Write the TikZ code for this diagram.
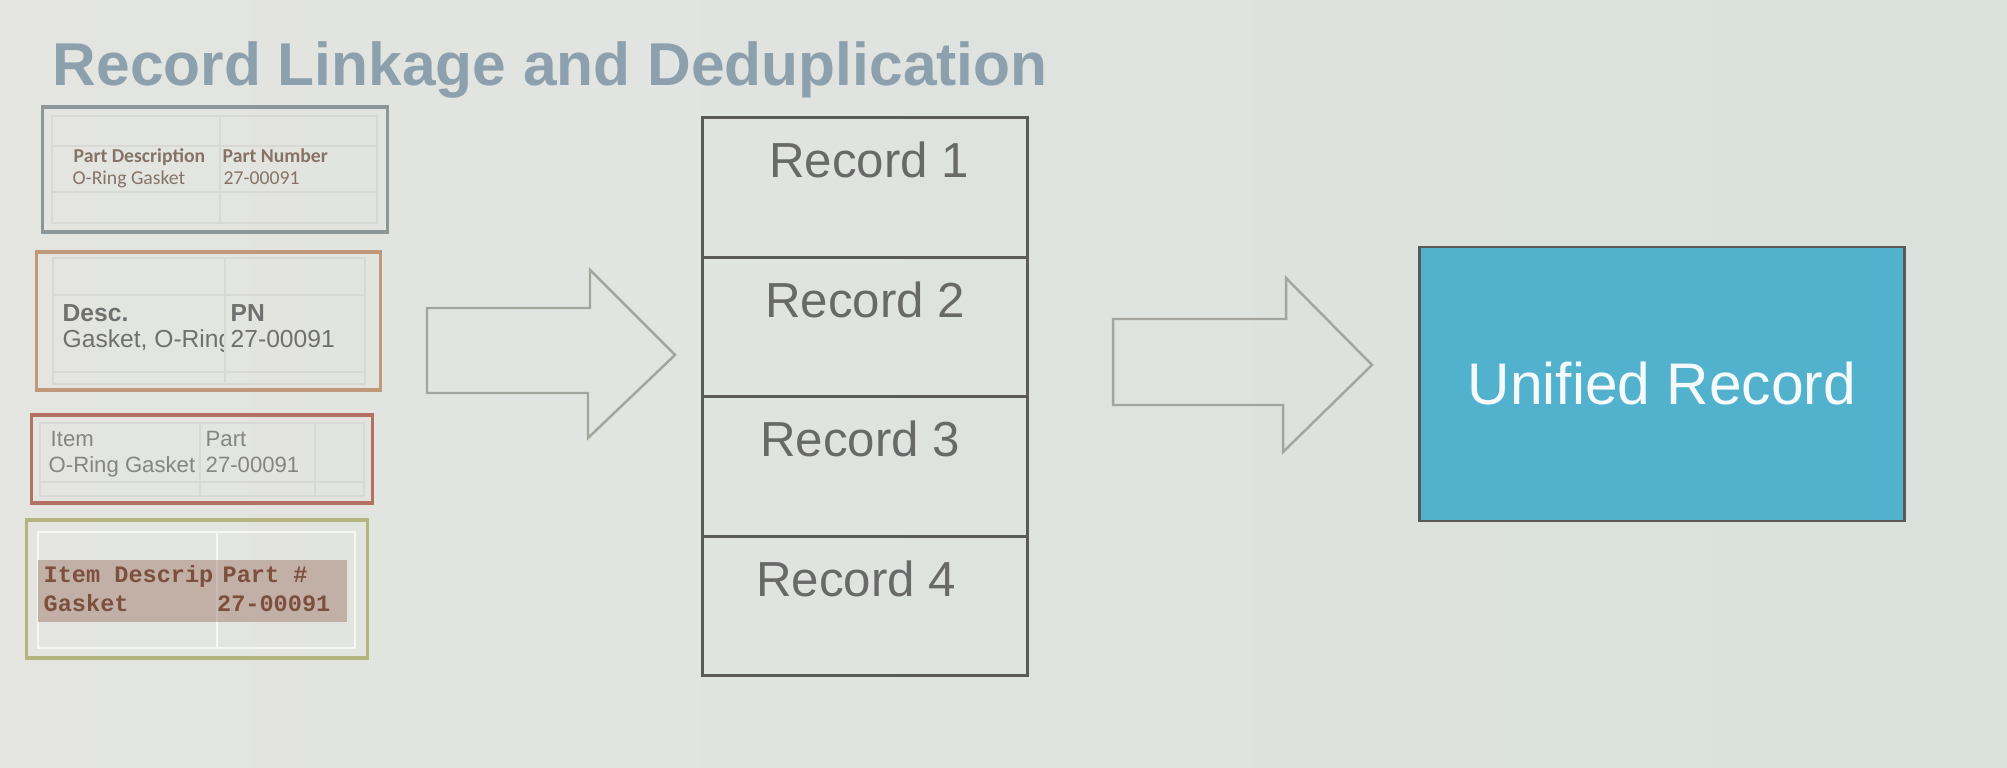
\documentclass[tikz,border=0pt]{standalone}
\usepackage{fontspec}
\setmainfont{Liberation Sans}
\newfontfamily\carlito{Carlito}
\newfontfamily\monofont{Liberation Mono}
\definecolor{bgL}{RGB}{228,229,225}
\definecolor{bgR}{RGB}{218,225,221}
\definecolor{titlec}{RGB}{140,160,174}
\definecolor{t1c}{RGB}{140,150,152}
\definecolor{t2c}{RGB}{192,152,122}
\definecolor{t3c}{RGB}{180,112,96}
\definecolor{t4c}{RGB}{178,182,126}
\definecolor{bandc}{RGB}{194,176,166}
\definecolor{gridc}{RGB}{216,216,212}
\definecolor{txtbrown}{RGB}{135,115,102}
\definecolor{txtgray}{RGB}{112,112,112}
\definecolor{txtmono}{RGB}{125,80,62}
\definecolor{recc}{RGB}{90,90,90}
\definecolor{rectxt}{RGB}{105,105,105}
\definecolor{unic}{RGB}{82,178,205}
\definecolor{arrc}{RGB}{165,165,160}
\begin{document}
\begin{tikzpicture}[x=0.01cm,y=-0.01cm,
  tbox/.style={draw,line width=0.9pt,inner sep=0pt,fill=none},
  grid/.style={draw=gridc,line width=0.35pt},
  tA/.style={anchor=base west,inner sep=0pt,text=txtbrown,font=\carlito\bfseries\fontsize{5.6}{6}\selectfont},
  tB/.style={anchor=base west,inner sep=0pt,text=txtgray,font=\fontsize{7}{8}\selectfont},
  tC/.style={anchor=base west,inner sep=0pt,text=txtgray!85,font=\fontsize{6.3}{7}\selectfont},
  tD/.style={inner sep=0pt,text=txtmono,font=\monofont\bfseries\fontsize{6.7}{7}\selectfont},
  reccell/.style={draw=recc,line width=0.85pt,minimum width=3.24cm,minimum height=1.395cm,inner sep=0pt},
  rectext/.style={anchor=base,inner sep=0pt,text=rectxt,font=\fontsize{14}{16}\selectfont},
  blockarrow/.style={draw=arrc,line width=0.7pt,line join=miter}
]
\useasboundingbox (0,0) rectangle (2007,768);
\shade[left color=bgL,right color=bgR] (0,0) rectangle (2007,768);

% title
\node[anchor=base west,inner sep=0pt,text=titlec,font=\bfseries\fontsize{17.2}{20}\selectfont] (title) at (52,86) {Record Linkage and Deduplication};

% ---- table 1
\node[tbox,draw=t1c,minimum width=3.44cm,minimum height=1.25cm] (t1) at (215,169.5) {};
\draw[grid] (52,116) rectangle (377,223);
\draw[grid] (220,116) -- (220,223);
\draw[grid] (52,146) -- (377,146) (52,192) -- (377,192);
\node[tA] (t1a) at (73,163) {Part Description};
\node[tA] (t1b) at (222,163) {Part Number};
\node[tA,font=\carlito\fontsize{5.6}{6}\selectfont] (t1c) at (72,185) {O-Ring Gasket};
\node[tA,font=\carlito\fontsize{5.6}{6}\selectfont] (t1d) at (223,185) {27-00091};

% ---- table 2
\node[tbox,draw=t2c,minimum width=3.43cm,minimum height=1.38cm] (t2) at (208.5,321) {};
\draw[grid] (53,258) rectangle (365,384);
\draw[grid] (225,258) -- (225,384);
\draw[grid] (53,295) -- (365,295) (53,372) -- (365,372);
\node[tB,font=\bfseries\fontsize{7}{8}\selectfont] (t2a) at (62,322) {Desc.};
\node[tB,font=\bfseries\fontsize{7}{8}\selectfont] (t2b) at (230,322) {PN};
\begin{scope}
\clip (55,330) rectangle (223,360);
\node[tB] (t2c) at (62,348) {Gasket, O-Ring};
\end{scope}
\node[tB] (t2d) at (230,348) {27-00091};

% ---- table 3
\node[tbox,draw=t3c,minimum width=3.40cm,minimum height=0.88cm] (t3) at (202,459) {};
\draw[grid] (40,423) rectangle (364,496);
\draw[grid] (200,423) -- (200,496) (315,423) -- (315,496);
\draw[grid] (40,482) -- (364,482);
\node[tC] (t3a) at (50,447) {Item};
\node[tC] (t3b) at (205,447) {Part};
\node[tC] (t3c) at (48,473) {O-Ring Gasket};
\node[tC] (t3d) at (205,473) {27-00091};

% ---- table 4
\node[tbox,draw=t4c,minimum width=3.40cm,minimum height=1.38cm] (t4) at (197,589) {};
\draw[draw=white!70!bgL,line width=0.5pt] (38,532) rectangle (355,648);
\draw[draw=white!70!bgL,line width=0.5pt] (217,532) -- (217,648);
\fill[bandc] (38,560) rectangle (347,622);
\draw[draw=bandc!85!white,line width=0.4pt] (217,560) -- (217,622);
\node[tD,anchor=base west] (t4a) at (43,583) {Item Descrip};
\node[tD,anchor=base west] (t4b) at (222,583) {Part \#};
\node[tD,anchor=base west] (t4c) at (43,612) {Gasket};
\node[tD,anchor=base east] (t4d) at (331,612) {27-00091};

% ---- arrow 1
\draw[blockarrow] (427,308) -- (590,308) -- (590,270) -- (675,355) -- (588,438) -- (588,393) -- (427,393) -- cycle;

% ---- record stack
\node[reccell] (rec1) at (865,187.5) {};
\node[reccell] (rec2) at (865,327) {};
\node[reccell] (rec3) at (865,466.5) {};
\node[reccell] (rec4) at (865,606) {};
\node[rectext] (r1) at (869,178) {Record 1};
\node[rectext] (r2) at (865,318) {Record 2};
\node[rectext] (r3) at (860,457) {Record 3};
\node[rectext] (r4) at (856,597) {Record 4};

% ---- arrow 2
\draw[blockarrow] (1113,319) -- (1286,319) -- (1286,278) -- (1372,365) -- (1283,452) -- (1283,405) -- (1113,405) -- cycle;

% ---- unified record
\node[draw=recc,line width=0.7pt,fill=unic,minimum width=4.85cm,minimum height=2.74cm,inner sep=0pt,text=white!94!unic,font=\fontsize{16.7}{19}\selectfont] (uni) at (1662,384) {Unified Record};
\end{tikzpicture}
\end{document}
